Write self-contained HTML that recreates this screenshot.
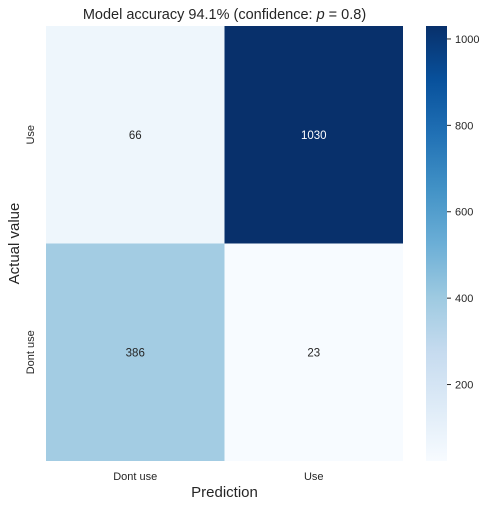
<!DOCTYPE html>
<html><head><meta charset="utf-8"><style>
body{margin:0;background:#fff;font-family:"Liberation Sans",sans-serif}
</style></head><body>
<svg id="c" width="490" height="507" xmlns="http://www.w3.org/2000/svg">
<defs><linearGradient id="g" x1="0" y1="1" x2="0" y2="0">
<stop offset="0" stop-color="#f7fbff"/><stop offset="0.125" stop-color="#deebf7"/><stop offset="0.25" stop-color="#c6dbef"/><stop offset="0.375" stop-color="#9ecae1"/><stop offset="0.5" stop-color="#6baed6"/><stop offset="0.625" stop-color="#4292c6"/><stop offset="0.75" stop-color="#2171b5"/><stop offset="0.875" stop-color="#08519c"/><stop offset="1" stop-color="#08306b"/></linearGradient></defs>
</svg>
<script>
const rowLabels=["Use","Dont use"];
const colLabels=["Dont use","Use"];
const values=[[66,1030],[386,23]];
const cbTicks=[200,400,600,800,1000];
const NS="http://www.w3.org/2000/svg",svg=document.getElementById('c');
function mk(t,a,txt){const e=document.createElementNS(NS,t);for(const k in a)e.setAttribute(k,a[k]);if(txt!=null)e.textContent=txt;svg.appendChild(e);return e;}
const X0=46,X1=403,Y0=26,Y1=461;
const all=values.flat(),vmin=Math.min(...all),vmax=Math.max(...all);
const stops=["#f7fbff","#deebf7","#c6dbef","#9ecae1","#6baed6","#4292c6","#2171b5","#08519c","#08306b"];
function hex(h){return [1,3,5].map(i=>parseInt(h.substr(i,2),16));}
function color(v){let t=(v-vmin)/(vmax-vmin)*8;let i=Math.min(7,Math.floor(t)),f=t-i;const a=hex(stops[i]),b=hex(stops[i+1]);return 'rgb('+a.map((x,j)=>Math.round(x+(b[j]-x)*f)).join(',')+')';}
const cw=(X1-X0)/colLabels.length,ch=(Y1-Y0)/rowLabels.length;
values.forEach((row,r)=>row.forEach((v,c)=>{
 const rc=mk('rect',{x:X0+c*cw,y:Y0+r*ch,width:cw,height:ch,fill:color(v)});
 
 
 const t=mk('text',{x:X0+(c+.5)*cw,y:Y0+(r+.5)*ch+4,'text-anchor':'middle','font-size':11.5,fill:(v-vmin)/(vmax-vmin)>0.5?'#fff':'#262626'},v);
 
 
}));
rowLabels.forEach((l,r)=>{const y=Y0+(r+.5)*ch;const t=mk('text',{x:34,y:y,'text-anchor':'middle','font-size':11,fill:'#262626',transform:'rotate(-90 34 '+y+')'},l);
 });
colLabels.forEach((l,c)=>{const t=mk('text',{x:X0+(c+.5)*cw,y:480,'text-anchor':'middle','font-size':11,fill:'#262626'},l);
 });
let t=mk('text',{x:(X0+X1)/2,y:497,'text-anchor':'middle','font-size':15,fill:'#262626'},'Prediction');

t=mk('text',{x:19,y:(Y0+Y1)/2,'text-anchor':'middle','font-size':15,fill:'#262626',transform:'rotate(-90 19 '+(Y0+Y1)/2+')'},'Actual value');

t=mk('text',{x:(X0+X1)/2,y:19,'text-anchor':'middle','font-size':14.5,fill:'#262626'},'Model accuracy 94.1% (confidence: ');

const ts=document.createElementNS(NS,'tspan');ts.setAttribute('font-style','italic');ts.textContent='p';t.appendChild(ts);
t.appendChild(document.createTextNode(' = 0.8)'));
const CX=426,CW=21;
const cb=mk('rect',{x:CX,y:Y0,width:CW,height:Y1-Y0,fill:'url(#g)'});

const cy=v=>Y1-(v-vmin)/(vmax-vmin)*(Y1-Y0);
cbTicks.forEach(v=>{const y=cy(v);mk('line',{x1:CX+CW,x2:CX+CW+4,y1:y,y2:y,stroke:'#262626','stroke-width':1});
 const e=mk('text',{x:CX+CW+8,y:y+4,'font-size':11,fill:'#262626'},v);
 });
</script>
</body></html>
